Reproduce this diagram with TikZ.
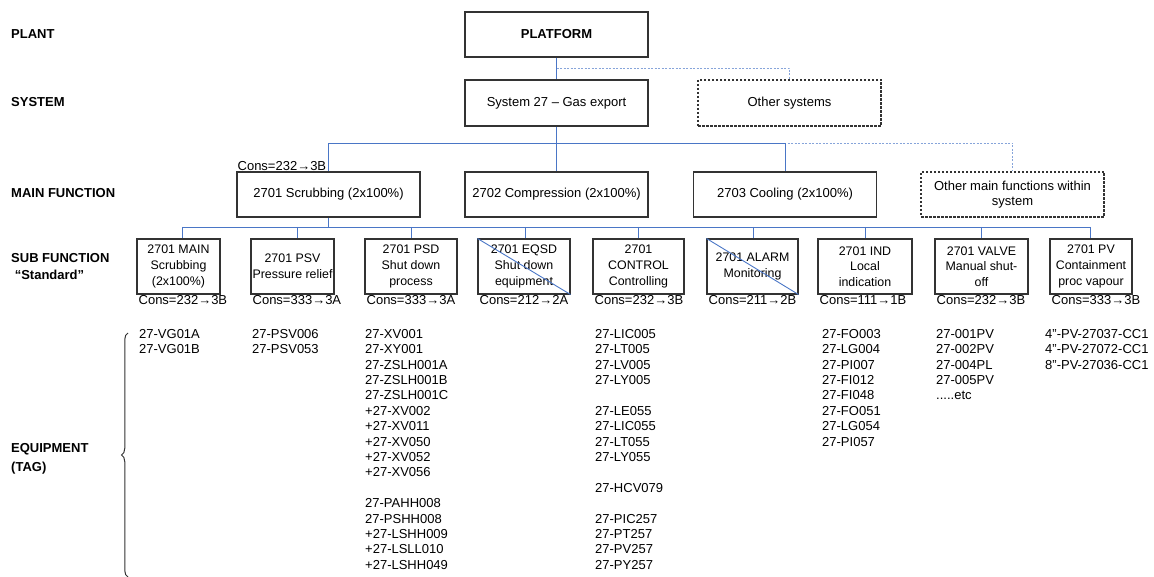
\documentclass[tikz,border=0pt]{standalone}
\usepackage{fontspec}
\setmainfont{Liberation Sans}
\usetikzlibrary{positioning,decorations.pathreplacing}
\definecolor{Wire}{HTML}{4A76C6}
\definecolor{WireLight}{HTML}{86A4DA}
\definecolor{Frame}{HTML}{333333}
\newcommand{\basefont}{\fontsize{13}{15.4}\selectfont}

\tikzset{
  lvl/.style={anchor=west,inner sep=0pt,font=\basefont\bfseries},
  fbox/.style={draw=Frame,line width=1.1pt,minimum width=183pt,minimum height=45pt,inner sep=0pt,align=center},
  obox/.style={fbox,dash pattern=on 2.5pt off 1.5pt},
  sbox/.style={draw=Frame,line width=1.1pt,minimum height=55pt,inner sep=0pt,align=center,font=\fontsize{12.4}{15.6}\selectfont},
  wire/.style={Wire,line width=0.9pt},
  dwire/.style={WireLight,line width=0.9pt,dash pattern=on 2pt off 1.5pt},
  cons/.style={anchor=north west,inner sep=1pt,xshift=1pt},
  tags/.style={anchor=north west,inner sep=0pt,align=left}
}

\begin{document}
\begin{tikzpicture}[x=1pt,y=-1pt,font=\basefont]
  \useasboundingbox (0,0) rectangle (1154,577);

  % level names
  \node[lvl] (lplant) at (11,34) {PLANT};
  \node[lvl] (lsys) at (11,102) {SYSTEM};
  \node[lvl] (lmain) at (11,193) {MAIN FUNCTION};
  \node[lvl,align=left,anchor=north west] (lsub) at (11,253.5) {SUB FUNCTION\\[1.5pt]\ “Standard”};
  \node[lvl,align=left,anchor=north west] (lequip) at (11,443) {EQUIPMENT\\[4pt](TAG)};

  % plant / system
  \node[fbox,font=\basefont\bfseries] (plat) at (556.5,34.5) {PLATFORM};
  \node[fbox,minimum height=46pt] (sys) at (556.5,103) {System 27 -- Gas export};
  \node[obox,minimum height=46pt] (othsys) at (789.5,103) {Other systems};
  \coordinate (jtop) at (556.5,68.5);
  \draw[wire] (plat) -- (sys);
  \draw[dwire] (jtop) -| (othsys);

  % main functions
  \node[fbox] (mf1) at (328.5,194.5) {2701 Scrubbing (2x100\%)};
  \node[fbox] (mf2) at (556.5,194.5) {2702 Compression (2x100\%)};
  \node[fbox] (mf3) at (785,194.5) {2703 Cooling (2x100\%)};
  \node[obox] (mfo) at (1012.5,194.5) {Other main functions within\\system};
  \coordinate (busA) at (556.5,143);
  \draw[dwire] (busA) -| (mfo);
  \draw[wire] (sys) -- (mf2);
  \draw[wire] (mf1) |- ([yshift=-0.6pt]busA) -| (mf3);
  \node[anchor=south west,fill=white,inner sep=1pt] (cmf1) at (mf1.north west) {Cons=232→3B};

  % sub functions
  \foreach \n/\l/\r/\c/\txt/\cons in {
    1/137/220/182/{2701 MAIN\\Scrubbing\\(2x100\%)}/{232→3B},
    2/251/334/297/{2701 PSV\\Pressure relief}/{333→3A},
    3/365/457/411/{2701 PSD\\Shut down\\process}/{333→3A},
    4/478/570/525/{2701 EQSD\\Shut down\\equipment}/{212→2A},
    5/593/684/638/{2701\\CONTROL\\Controlling}/{232→3B},
    6/707/798/753/{2701 ALARM\\Monitoring}/{211→2B},
    7/818/912/865/{2701 IND\\Local\\indication}/{111→1B},
    8/935/1028/981/{2701 VALVE\\Manual shut-\\off}/{232→3B},
    9/1050/1132/1090/{2701 PV\\Containment\\proc vapour}/{333→3B}} {
    \node[sbox,minimum width={\r-\l}] (s\n) at ({(\l+\r)/2},266.5) {\txt};
    \coordinate (t\n) at (\c,227);
    \draw[wire] (t\n) -- (s\n.north -| t\n);
    \node[cons] (k\n) at (s\n.south west) {Cons=\cons};
  }
  \draw[wire] (t1) -- (t9);
  \draw[wire] (mf1) -- (mf1.south |- t1);
  % struck out
  \draw[wire] (s4.north west) -- (s4.south east);
  \draw[wire] (s6.north west) -- (s6.south east);

  % equipment tags
  \draw[decorate,decoration={brace,amplitude=6.5pt},Frame,line width=1pt] (128,577) -- (128,333);
  \node[tags] (g1) at (139,329) {27-VG01A\\27-VG01B};
  \node[tags] (g2) at (252,329) {27-PSV006\\27-PSV053};
  \node[tags] (g3) at (365,329) {27-XV001\\27-XY001\\27-ZSLH001A\\27-ZSLH001B\\27-ZSLH001C\\+27-XV002\\+27-XV011\\+27-XV050\\+27-XV052\\+27-XV056\\ \\27-PAHH008\\27-PSHH008\\+27-LSHH009\\+27-LSLL010\\+27-LSHH049};
  \node[tags] (g5) at (595,329) {27-LIC005\\27-LT005\\27-LV005\\27-LY005\\ \\27-LE055\\27-LIC055\\27-LT055\\27-LY055\\ \\27-HCV079\\ \\27-PIC257\\27-PT257\\27-PV257\\27-PY257};
  \node[tags] (g7) at (822,329) {27-FO003\\27-LG004\\27-PI007\\27-FI012\\27-FI048\\27-FO051\\27-LG054\\27-PI057};
  \node[tags] (g8) at (936,329) {27-001PV\\27-002PV\\27-004PL\\27-005PV\\.....etc};
  \node[tags] (g9) at (1045,329) {4"-PV-27037-CC1\\4"-PV-27072-CC1\\8"-PV-27036-CC1};
\end{tikzpicture}
\end{document}
